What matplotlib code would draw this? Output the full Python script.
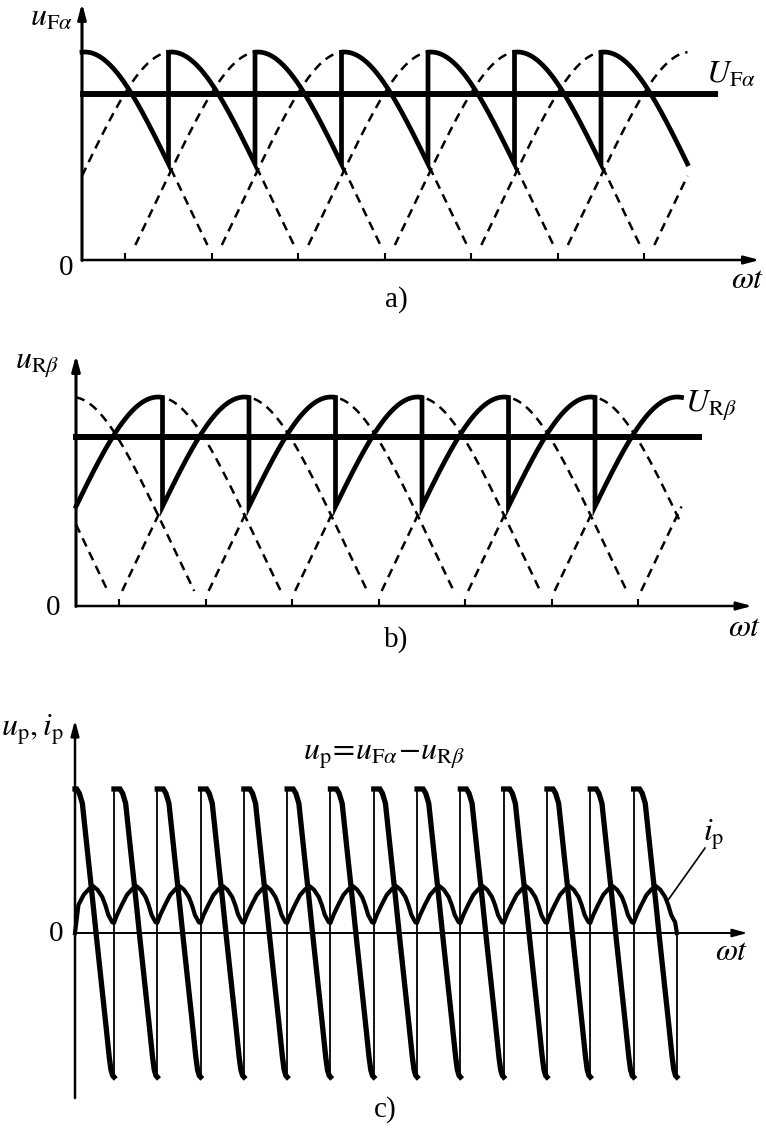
import numpy as np
import matplotlib
matplotlib.use('Agg')
import matplotlib.pyplot as plt

plt.rcParams['mathtext.fontset'] = 'stix'
plt.rcParams['font.family'] = ['Liberation Serif', 'DejaVu Serif']
plt.rcParams['lines.scale_dashes'] = False

W, H = 766, 1137

# ---- a), b): line-voltage arcs, angles in degrees ----
arc_halfwidth = 85      # dashed arcs stop just above the axis
arc_warp = 5            # arcs in the drawing are a little pointier than a cosine
t_end = 420
fire = [0, 60, 120, 180, 240, 300, 360]     # firing instants (both groups)
fwd_shift = 2           # F group: arc peak just after firing
rev_shift = 57          # R group: arc peak just before next firing
fwd_centers = [2, 62, 122, 182, 242, 302, 362, 422, 482]
rev_centers = [-63, -3, 57, 117, 177, 237, 297, 357, 417, 477]
U_Fa = 0.80
U_Rb = 0.81
ticks = [30, 90, 150, 210, 270, 330, 390]

# ---- c): circulating voltage and current, one 60 deg period ----
c_starts = [-6, 54, 114, 174, 234, 294, 354, 414, 474, 534, 594, 654, 714, 774]
c_period = 60
c_end = 834
up_phase = [0, 0.14, 0.2, 0.27, 0.4, 0.5, 0.6, 0.7, 0.8, 0.89, 0.93, 0.97, 1.0]
up_value = [1.0, 1.0, 0.97, 0.9, 0.53, 0.25, -0.04, -0.32, -0.6, -0.86, -0.95, -0.99, -1.0]
ip_phase = [0, 0.07, 0.18, 0.3, 0.42, 0.52, 0.62, 0.73, 0.8, 0.87, 0.96, 1.0]
ip_value = [0.07, 0.125, 0.195, 0.265, 0.305, 0.325, 0.3, 0.25, 0.195, 0.125, 0.075, 0.07]
ip_start = 0.0
ip_end = 0.0


def arc(theta, center):
    phi = np.radians(theta - center)
    return np.cos(phi + np.radians(arc_warp) * np.sin(2 * phi))


fig = plt.figure(figsize=(W / 100, H / 100), dpi=100)


def panel(x0, y0, xs, ys, top, bottom):
    # axes over the full width, limits chosen so data units land on the picture's pixels
    ax = fig.add_axes([0, 1 - bottom / H, 1, (bottom - top) / H])
    ax.set_xlim(-x0 / xs, (W - x0) / xs)
    ax.set_ylim((y0 - bottom) / ys, (y0 - top) / ys)
    ax.axis('off')
    return ax


def arrow(ax, start, tip, lw):
    ax.annotate('', xy=tip, xytext=start,
                arrowprops=dict(arrowstyle='-|>,head_length=0.45,head_width=0.12',
                                lw=lw, color='k', shrinkA=0, shrinkB=0,
                                mutation_scale=20))


def ftext(x, y, s, size=23, ha='center', va='center'):
    fig.text(x / W, 1 - y / H, s, fontsize=size, ha=ha, va=va)


def voltage_panel(ax, centers, shift, xs, ys, ytop, xtip):
    arrow(ax, (0, -0.5 / ys), (0, ytop), 2.2)
    arrow(ax, (0, 0), (xtip, 0), 1.8)
    ax.vlines(ticks, 0, 7 / ys, color='k', lw=1.5)
    for c in centers:
        lo = max(0, c - arc_halfwidth)
        hi = min(t_end, c + arc_halfwidth)
        if hi <= lo:
            continue
        th = np.linspace(lo, hi, 120)
        ax.plot(th, arc(th, c), color='k', lw=1.8, dashes=(6.5, 4.5))
    xs_all, ys_all = [], []
    for f in fire:
        th = np.linspace(f, f + 60, 80)
        xs_all.append(th)
        ys_all.append(arc(th, f + shift))
    ax.plot(np.concatenate(xs_all), np.concatenate(ys_all), color='k', lw=3.4,
            solid_joinstyle='miter')
    return ax


# a)
xs_ab = 86.5 / 60
ax_a = panel(82, 260, xs_ab, 208, 0, 330)
voltage_panel(ax_a, fwd_centers, fwd_shift, xs_ab, 208, 257 / 208, 470)
ax_a.plot([-1.5, 441], [U_Fa, U_Fa], color='k', lw=4.3, solid_capstyle='butt')
ftext(30, 18, r'$u_{\mathrm{F}\alpha}$', ha='left')
ftext(706, 75, r'$U_{\mathrm{F}\alpha}$', ha='left')
ftext(748, 281, r'$\omega t$')
ftext(66, 268, '0', size=21)
ftext(396, 300, 'a)', size=21)

# b)
ax_b = panel(76, 606, xs_ab, 209, 330, 680)
voltage_panel(ax_b, rev_centers, rev_shift, xs_ab, 209, 251 / 209, 469)
ax_b.plot([-2, 434], [U_Rb, U_Rb], color='k', lw=4.3, solid_capstyle='butt')
ftext(15, 366, r'$u_{\mathrm{R}\beta}$', ha='left')
ftext(685, 406, r'$U_{\mathrm{R}\beta}$', ha='left')
ftext(745, 628, r'$\omega t$')
ftext(53, 608, '0', size=21)
ftext(396, 640, 'b)', size=21)

# c)
xs_c = 43.3 / 60
ax_c = panel(75, 933, xs_c, 144, 680, 1137)
arrow(ax_c, (0, -1.146), (0, 1.479), 1.8)
arrow(ax_c, (0, 0), (932, 0), 1.4)

ip_x, ip_y = [0.0], [ip_start]
for s in c_starts:
    px = s + c_period * np.array(up_phase)
    keep = px >= 0
    seg_x = px[keep]
    seg_y = np.array(up_value)[keep]
    if not keep[0]:
        seg_x = np.r_[0, seg_x]
        seg_y = np.r_[up_value[0], seg_y]
    ax_c.plot(seg_x, seg_y, color='k', lw=3.8, solid_joinstyle='miter')
    qx = s + c_period * np.array(ip_phase)
    keep = qx > 0
    ip_x.extend(qx[keep])
    ip_y.extend(np.array(ip_value)[keep])
ip_y[-1] = ip_end
ax_c.plot(ip_x, ip_y, color='k', lw=3.0)

# thin vertical jumps of u_p
ax_c.vlines(c_starts[1:], -1.0, 1.0, color='k', lw=1.3)
ax_c.vlines([c_end], -1.0, 0, color='k', lw=1.3)

ax_c.plot([822, 873], [0.23, 0.59], color='k', lw=1.2)
ftext(32, 730, r'$u_{\mathrm{p}},i_{\mathrm{p}}$')
ftext(384, 756, r'$u_{\mathrm{p}}\!=\!u_{\mathrm{F}\alpha}\!-\!u_{\mathrm{R}\beta}$')
ftext(714, 835, r'$i_{\mathrm{p}}$')
ftext(732, 953, r'$\omega t$')
ftext(56, 934, '0', size=21)
ftext(385, 1110, 'c)', size=21)

fig.savefig('out.png', dpi=100)
